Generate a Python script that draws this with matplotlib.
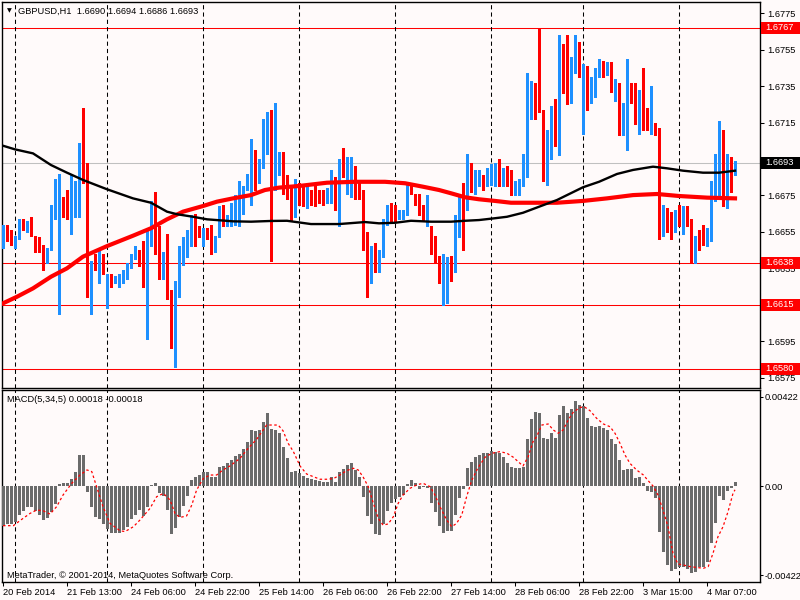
import numpy as np
import matplotlib
matplotlib.use("Agg")
import matplotlib.pyplot as plt
import matplotlib.transforms as mtransforms
from matplotlib.patches import Rectangle

plt.rcParams['font.family'] = ['Liberation Sans', 'DejaVu Sans']
plt.rcParams['font.size'] = 6.7

# GBPUSD H1 candles, bar 0 = 20 Feb 21:00 ... bar 183 = 4 Mar 14:00
opens = [
    1.6647, 1.6658, 1.6650, 1.6650, 1.6651, 1.6659, 1.6656, 1.6660, 1.6653, 1.6648,
    1.6647, 1.6638, 1.6645, 1.6664, 1.6668, 1.6672, 1.6665, 1.6663, 1.6672, 1.6677,
    1.6697, 1.6683, 1.6625, 1.6639, 1.6636, 1.6643, 1.6614, 1.6630, 1.6629, 1.6628,
    1.6630, 1.6634, 1.6636, 1.6641, 1.6644, 1.6641, 1.6625, 1.6647, 1.6672, 1.6655,
    1.6638, 1.6638, 1.6618, 1.6596, 1.6627, 1.6638, 1.6646, 1.6648, 1.6661, 1.6654,
    1.6652, 1.6656, 1.6654, 1.6644, 1.6652, 1.6667, 1.6658, 1.6662, 1.6665, 1.6669,
    1.6673, 1.6679, 1.6683, 1.6700, 1.6685, 1.6693, 1.6704, 1.6716, 1.6681, 1.6693,
    1.6697, 1.6678, 1.6676, 1.6664, 1.6681, 1.6675, 1.6673, 1.6676, 1.6676, 1.6676,
    1.6676, 1.6673, 1.6676, 1.6684, 1.6669, 1.6693, 1.6686, 1.6689, 1.6690, 1.6678,
    1.6676, 1.6645, 1.6638, 1.6644, 1.6634, 1.6642, 1.6662, 1.6668, 1.6666, 1.6664,
    1.6665, 1.6666, 1.6681, 1.6675, 1.6672, 1.6667, 1.6663, 1.6658, 1.6645, 1.6642,
    1.6630, 1.6630, 1.6639, 1.6638, 1.6659, 1.6672, 1.6668, 1.6689, 1.6681, 1.6683,
    1.6683, 1.6683, 1.6684, 1.6686, 1.6691, 1.6685, 1.6690, 1.6682, 1.6677, 1.6677,
    1.6680, 1.6686, 1.6728, 1.6733, 1.6727, 1.6716, 1.6683, 1.6696, 1.6723, 1.6704,
    1.6757, 1.6748, 1.6726, 1.6744, 1.6757, 1.6710, 1.6742, 1.6733, 1.6735, 1.6742,
    1.6748, 1.6745, 1.6746, 1.6733, 1.6736, 1.6714, 1.6716, 1.6732, 1.6729, 1.6711,
    1.6727, 1.6722, 1.6712, 1.6713, 1.6708, 1.6658, 1.6661, 1.6659, 1.6656, 1.6664,
    1.6663, 1.6663, 1.6661, 1.6639, 1.6653, 1.6653, 1.6650, 1.6650, 1.6674, 1.6675,
    1.6708, 1.6675, 1.6692, 1.6690,
]
highs = [
    1.6659, 1.6659, 1.6656, 1.6653, 1.6662, 1.6662, 1.6661, 1.6663, 1.6653, 1.6652,
    1.6648, 1.6646, 1.6670, 1.6684, 1.6687, 1.6674, 1.6678, 1.6686, 1.6683, 1.6704,
    1.6723, 1.6693, 1.6639, 1.6643, 1.6645, 1.6643, 1.6632, 1.6632, 1.6631, 1.6632,
    1.6634, 1.6638, 1.6643, 1.6647, 1.6645, 1.6650, 1.6657, 1.6672, 1.6677, 1.6658,
    1.6644, 1.6654, 1.6623, 1.6628, 1.6647, 1.6652, 1.6656, 1.6664, 1.6665, 1.6658,
    1.6657, 1.6657, 1.6659, 1.6653, 1.6669, 1.6670, 1.6664, 1.6671, 1.6675, 1.6683,
    1.6680, 1.6687, 1.6706, 1.6700, 1.6695, 1.6717, 1.6721, 1.6722, 1.6726, 1.6699,
    1.6699, 1.6686, 1.6680, 1.6684, 1.6682, 1.6680, 1.6681, 1.6678, 1.6680, 1.6678,
    1.6678, 1.6679, 1.6689, 1.6685, 1.6695, 1.6701, 1.6696, 1.6696, 1.6691, 1.6682,
    1.6678, 1.6655, 1.6647, 1.6649, 1.6645, 1.6662, 1.6670, 1.6671, 1.6670, 1.6667,
    1.6667, 1.6682, 1.6682, 1.6676, 1.6676, 1.6670, 1.6675, 1.6658, 1.6653, 1.6642,
    1.6643, 1.6641, 1.6642, 1.6664, 1.6674, 1.6682, 1.6698, 1.6693, 1.6689, 1.6689,
    1.6686, 1.6690, 1.6692, 1.6693, 1.6695, 1.6690, 1.6691, 1.6689, 1.6683, 1.6684,
    1.6698, 1.6742, 1.6738, 1.6737, 1.6767, 1.6722, 1.6711, 1.6724, 1.6728, 1.6763,
    1.6758, 1.6763, 1.6751, 1.6763, 1.6759, 1.6747, 1.6746, 1.6740, 1.6745, 1.6750,
    1.6749, 1.6748, 1.6748, 1.6739, 1.6737, 1.6726, 1.6750, 1.6737, 1.6737, 1.6733,
    1.6745, 1.6723, 1.6735, 1.6715, 1.6712, 1.6670, 1.6668, 1.6666, 1.6667, 1.6670,
    1.6669, 1.6669, 1.6662, 1.6653, 1.6656, 1.6659, 1.6657, 1.6683, 1.6698, 1.6716,
    1.6711, 1.6698, 1.6696, 1.6694,
]
lows = [
    1.6646, 1.6650, 1.6648, 1.6646, 1.6651, 1.6656, 1.6655, 1.6653, 1.6644, 1.6644,
    1.6634, 1.6638, 1.6645, 1.6662, 1.6610, 1.6663, 1.6662, 1.6654, 1.6663, 1.6663,
    1.6682, 1.6619, 1.6610, 1.6634, 1.6627, 1.6632, 1.6613, 1.6625, 1.6627, 1.6625,
    1.6627, 1.6629, 1.6635, 1.6640, 1.6636, 1.6625, 1.6596, 1.6647, 1.6643, 1.6629,
    1.6629, 1.6618, 1.6591, 1.6581, 1.6619, 1.6637, 1.6641, 1.6647, 1.6647, 1.6652,
    1.6647, 1.6651, 1.6643, 1.6644, 1.6652, 1.6658, 1.6658, 1.6658, 1.6659, 1.6658,
    1.6665, 1.6678, 1.6670, 1.6678, 1.6682, 1.6690, 1.6698, 1.6639, 1.6678, 1.6686,
    1.6676, 1.6673, 1.6661, 1.6663, 1.6670, 1.6669, 1.6668, 1.6670, 1.6669, 1.6671,
    1.6670, 1.6671, 1.6671, 1.6667, 1.6658, 1.6685, 1.6676, 1.6674, 1.6673, 1.6673,
    1.6645, 1.6619, 1.6627, 1.6633, 1.6633, 1.6641, 1.6659, 1.6661, 1.6661, 1.6662,
    1.6662, 1.6664, 1.6676, 1.6670, 1.6664, 1.6661, 1.6658, 1.6643, 1.6638, 1.6627,
    1.6615, 1.6616, 1.6628, 1.6633, 1.6652, 1.6645, 1.6667, 1.6677, 1.6676, 1.6680,
    1.6678, 1.6680, 1.6681, 1.6680, 1.6680, 1.6680, 1.6680, 1.6675, 1.6675, 1.6675,
    1.6680, 1.6685, 1.6717, 1.6717, 1.6721, 1.6683, 1.6681, 1.6695, 1.6702, 1.6697,
    1.6731, 1.6725, 1.6726, 1.6742, 1.6740, 1.6709, 1.6722, 1.6726, 1.6729, 1.6740,
    1.6740, 1.6741, 1.6732, 1.6727, 1.6708, 1.6708, 1.6700, 1.6726, 1.6714, 1.6709,
    1.6711, 1.6711, 1.6709, 1.6708, 1.6651, 1.6653, 1.6655, 1.6651, 1.6655, 1.6658,
    1.6654, 1.6658, 1.6638, 1.6638, 1.6645, 1.6648, 1.6647, 1.6650, 1.6672, 1.6673,
    1.6669, 1.6668, 1.6677, 1.6686,
]
closes = [
    1.6658, 1.6651, 1.6649, 1.6651, 1.6660, 1.6657, 1.6661, 1.6654, 1.6646, 1.6645,
    1.6640, 1.6645, 1.6666, 1.6667, 1.6673, 1.6665, 1.6663, 1.6671, 1.6678, 1.6698,
    1.6683, 1.6625, 1.6638, 1.6635, 1.6642, 1.6634, 1.6631, 1.6628, 1.6630, 1.6630,
    1.6633, 1.6635, 1.6642, 1.6645, 1.6641, 1.6626, 1.6645, 1.6671, 1.6654, 1.6638,
    1.6639, 1.6619, 1.6598, 1.6623, 1.6638, 1.6646, 1.6649, 1.6663, 1.6652, 1.6652,
    1.6654, 1.6655, 1.6644, 1.6652, 1.6668, 1.6663, 1.6663, 1.6667, 1.6671, 1.6673,
    1.6678, 1.6685, 1.6699, 1.6684, 1.6693, 1.6705, 1.6715, 1.6680, 1.6694, 1.6696,
    1.6677, 1.6675, 1.6663, 1.6681, 1.6675, 1.6673, 1.6675, 1.6675, 1.6674, 1.6673,
    1.6673, 1.6676, 1.6683, 1.6669, 1.6692, 1.6686, 1.6690, 1.6691, 1.6682, 1.6675,
    1.6651, 1.6638, 1.6645, 1.6634, 1.6643, 1.6661, 1.6669, 1.6667, 1.6662, 1.6665,
    1.6666, 1.6680, 1.6680, 1.6671, 1.6666, 1.6662, 1.6669, 1.6644, 1.6642, 1.6629,
    1.6631, 1.6640, 1.6636, 1.6659, 1.6671, 1.6669, 1.6690, 1.6682, 1.6684, 1.6684,
    1.6681, 1.6685, 1.6685, 1.6690, 1.6685, 1.6689, 1.6682, 1.6678, 1.6679, 1.6680,
    1.6685, 1.6730, 1.6735, 1.6721, 1.6721, 1.6684, 1.6709, 1.6722, 1.6704, 1.6757,
    1.6747, 1.6726, 1.6746, 1.6757, 1.6742, 1.6746, 1.6733, 1.6735, 1.6742, 1.6746,
    1.6744, 1.6747, 1.6733, 1.6737, 1.6715, 1.6718, 1.6731, 1.6730, 1.6715, 1.6728,
    1.6715, 1.6712, 1.6715, 1.6711, 1.6657, 1.6660, 1.6657, 1.6656, 1.6665, 1.6663,
    1.6665, 1.6659, 1.6639, 1.6651, 1.6651, 1.6648, 1.6652, 1.6675, 1.6693, 1.6709,
    1.6675, 1.6693, 1.6687, 1.6693,
]

# moving averages, read at a few bars
ma_black_x = [0, 3, 7.5, 12, 16, 20, 26, 32.5, 37, 41, 43.5, 47.5, 51, 57.5, 62, 67, 71, 77,
              84, 90.5, 94, 98, 102, 107, 112, 115.5, 119, 123, 126, 130, 134, 138.5, 141,
              145, 149, 153.5, 157.5, 162.5, 166, 170, 175, 179, 183]
ma_black = [1.67023, 1.67003, 1.66981, 1.66917, 1.66875, 1.66835, 1.66784, 1.66734, 1.66710,
            1.66661, 1.66647, 1.66633, 1.66619, 1.66608, 1.66606, 1.66610, 1.66611, 1.66593,
            1.66593, 1.66604, 1.66597, 1.66600, 1.66611, 1.66606, 1.66606, 1.66611, 1.66615,
            1.66625, 1.66633, 1.66655, 1.66688, 1.66725, 1.66752, 1.66795, 1.66825, 1.66868,
            1.66890, 1.66908, 1.66899, 1.66886, 1.66875, 1.66875, 1.66886]
ma_red_x = [0, 3.5, 7.5, 12, 16, 20, 26, 32.5, 37, 41, 45, 50, 53.5, 57.5, 62, 65.5, 69, 74,
            81, 88, 95.5, 100.5, 105, 109, 112, 115.5, 119, 123, 127, 134, 138.5, 145, 151,
            157.5, 163.5, 169, 176, 183]
ma_red = [1.66158, 1.66194, 1.66240, 1.66304, 1.66350, 1.66414, 1.66472, 1.66529, 1.66570,
          1.66619, 1.66661, 1.66692, 1.66716, 1.66734, 1.66752, 1.66780, 1.66793, 1.66802,
          1.66820, 1.66825, 1.66825, 1.66817, 1.66798, 1.66780, 1.66762, 1.66740, 1.66729,
          1.66720, 1.66710, 1.66710, 1.66710, 1.66720, 1.66734, 1.66752, 1.66758, 1.66747,
          1.66738, 1.66734]

# MACD(5,34,5) histogram, one value per bar
macd_hist = [
    -0.00188, -0.00180, -0.00180, -0.00169, -0.00137, -0.00117, -0.00098, -0.00101, -0.00117, -0.00137,
    -0.00161, -0.00153, -0.00122, -0.00087, 0.00009, 0.00014, 0.00014, 0.00033, 0.00066, 0.00147,
    0.00147, -0.00028, -0.00100, -0.00149, -0.00158, -0.00180, -0.00202, -0.00221, -0.00221, -0.00221,
    -0.00209, -0.00193, -0.00156, -0.00137, -0.00114, -0.00142, -0.00098, 0.00003, 0.00014, -0.00035,
    -0.00047, -0.00114, -0.00228, -0.00198, -0.00149, -0.00095, -0.00047, 0.00028, 0.00041, 0.00052,
    0.00065, 0.00068, 0.00041, 0.00041, 0.00088, 0.00095, 0.00107, 0.00123, 0.00142, 0.00152,
    0.00175, 0.00209, 0.00265, 0.00262, 0.00265, 0.00305, 0.00344, 0.00270, 0.00265, 0.00253,
    0.00186, 0.00131, 0.00066, 0.00073, 0.00060, 0.00047, 0.00036, 0.00033, 0.00028, 0.00025,
    0.00019, 0.00019, 0.00041, 0.00021, 0.00065, 0.00079, 0.00100, 0.00107, 0.00076, 0.00044,
    -0.00054, -0.00142, -0.00180, -0.00228, -0.00232, -0.00180, -0.00119, -0.00082, -0.00063, -0.00051,
    -0.00043, 0.00009, 0.00028, 0.00016, -0.00013, -0.00006, -0.00011, -0.00079, -0.00122, -0.00190,
    -0.00221, -0.00212, -0.00212, -0.00139, -0.00058, -0.00016, 0.00084, 0.00115, 0.00136, 0.00147,
    0.00158, 0.00158, 0.00166, 0.00163, 0.00158, 0.00139, 0.00107, 0.00088, 0.00084, 0.00086,
    0.00090, 0.00224, 0.00318, 0.00349, 0.00344, 0.00226, 0.00221, 0.00250, 0.00226, 0.00337,
    0.00379, 0.00344, 0.00363, 0.00404, 0.00384, 0.00379, 0.00321, 0.00284, 0.00281, 0.00284,
    0.00273, 0.00265, 0.00221, 0.00199, 0.00123, 0.00076, 0.00079, 0.00079, 0.00040, 0.00044,
    0.00013, -0.00022, -0.00027, -0.00055, -0.00216, -0.00311, -0.00374, -0.00401, -0.00395, -0.00382,
    -0.00382, -0.00395, -0.00414, -0.00406, -0.00386, -0.00382, -0.00359, -0.00272, -0.00177, -0.00047,
    -0.00066, -0.00024, -0.00011, 0.00018,
]
signal_x = [0, 2.6, 4.25, 6.75, 8.4, 10, 11.75, 13.4, 15, 17.2, 19.25, 21, 22.2, 23.4, 25, 26.75,
            29.25, 30.5, 32.6, 34.25, 36.75, 38.4, 40.1, 41.75, 43, 44.25, 45.9, 47.2, 48.4, 50.1,
            51.75, 53.4, 55, 56.75, 59.25, 61.3, 63.4, 65.9, 68.8, 70, 71.3, 72.6, 74.25, 75.9,
            77.6, 79.25, 80.9, 82.6, 84.25, 85.9, 87.6, 88.8, 90, 91.3, 92.6, 93.8, 95, 96.3,
            97.6, 98.8, 100, 101.75, 103.4, 105, 106.75, 108, 109.25, 110.9, 112.2, 113.4, 114.7,
            115.9, 117.2, 118.8, 120.5, 122.2, 124.25, 126, 127.6, 128.8, 130, 131.3, 132.5,
            133.4, 134.7, 136.3, 137.6, 138.8, 140, 141.3, 142.5, 144.25, 145.5, 146.75, 148.4,
            150.1, 151.75, 153, 154.25, 155.5, 156.75, 158.4, 160.1, 161.3, 162.5, 163.75, 165,
            166.25, 167.5, 168.75, 170, 171.75, 173.4, 175.1, 176.3, 177.5, 178.75, 180, 181.25,
            182.5, 183]
signal = [-0.00188, -0.00188, -0.00164, -0.00130, -0.00114, -0.00117, -0.00133, -0.00098, -0.00043,
          0.00013, 0.00052, 0.00076, 0.00068, -0.00003, -0.00098, -0.00177, -0.00212, -0.00216,
          -0.00193, -0.00161, -0.00106, -0.00051, -0.00035, -0.00066, -0.00130, -0.00149, -0.00142,
          -0.00090, -0.00019, 0.00036, 0.00052, 0.00052, 0.00076, 0.00095, 0.00131, 0.00179, 0.00221,
          0.00289, 0.00289, 0.00262, 0.00202, 0.00163, 0.00095, 0.00057, 0.00044, 0.00032, 0.00032,
          0.00035, 0.00052, 0.00073, 0.00084, 0.00076, 0.00044, -0.00003, -0.00082, -0.00153,
          -0.00185, -0.00180, -0.00145, -0.00082, -0.00043, -0.00011, 0.00005, 0.00013, -0.00003,
          -0.00043, -0.00098, -0.00161, -0.00193, -0.00177, -0.00137, -0.00051, 0.00028, 0.00088,
          0.00136, 0.00155, 0.00163, 0.00155, 0.00136, 0.00115, 0.00095, 0.00139, 0.00210, 0.00234,
          0.00289, 0.00294, 0.00265, 0.00250, 0.00265, 0.00313, 0.00348, 0.00373, 0.00373, 0.00357,
          0.00321, 0.00294, 0.00281, 0.00250, 0.00202, 0.00147, 0.00107, 0.00076, 0.00052, 0.00025,
          0.0, -0.00043, -0.00114, -0.00193, -0.00319, -0.00370, -0.00374, -0.00382, -0.00386,
          -0.00390, -0.00382, -0.00319, -0.00240, -0.00193, -0.00122, -0.00035, -0.00018]

levels = [1.6767, 1.6638, 1.6615, 1.6580]
bid = 1.6693
separator_bars = [3, 26, 50, 74, 98, 122, 145, 169]
xtick_bars = [0, 16, 32, 48, 64, 80, 96, 112, 128, 144, 160, 176]
xtick_labels = ["20 Feb 2014", "21 Feb 13:00", "24 Feb 06:00", "24 Feb 22:00", "25 Feb 14:00",
                "26 Feb 06:00", "26 Feb 22:00", "27 Feb 14:00", "28 Feb 06:00", "28 Feb 22:00",
                "3 Mar 15:00", "4 Mar 07:00"]
price_ticks = [1.6775, 1.6755, 1.6735, 1.6715, 1.6695, 1.6675, 1.6655, 1.6635, 1.6615, 1.6595, 1.6575]
hidden_ticks = [1.6695, 1.6615]  # fully under the bid / level boxes
macd_ticks = [0.00422, 0.0, -0.00422]
macd_tick_labels = ["0.00422", "0.00", "-0.00422"]

bg = '#FFFAFA'
bull_col = '#1E90FF'
bear_col = '#FF0000'
W, H = 800, 600


def px_box(x0, y0, x1, y1):
    return [x0 / W, 1 - y1 / H, (x1 - x0) / W, (y1 - y0) / H]


fig = plt.figure(figsize=(8, 6), dpi=100, facecolor=bg)
ax = fig.add_axes(px_box(2, 2, 760, 388), facecolor=bg)
ax2 = fig.add_axes(px_box(2, 390, 760, 582), facecolor=bg)

# price panel
x = np.arange(len(opens))
o, h, l, c = map(np.array, (opens, highs, lows, closes))
col = np.where(c >= o, bull_col, bear_col)
ax.vlines(x, l, h, colors=col, lw=0.75, zorder=3, antialiased=False)
ax.bar(x, np.maximum(np.abs(c - o), 0.00006), bottom=np.minimum(o, c), width=0.75,
       color=col, lw=0, zorder=4, antialiased=False)
ax.plot(ma_red_x, ma_red, color='red', lw=3.0, zorder=5)
ax.plot(ma_black_x, ma_black, color='black', lw=1.7, zorder=5)

for v in levels:
    ax.axhline(v, color='red', lw=0.75, zorder=2)
ax.axhline(bid, color='#C0C0C0', lw=0.75, zorder=1)

for axx in (ax, ax2):
    for b in separator_bars:
        axx.axvline(b, color='black', lw=0.75, ls=(0, (4, 3)), zorder=2)
    axx.set_xlim(-0.25, 189.25)
    for s in axx.spines.values():
        s.set_linewidth(1.0)
        s.set_color('black')

ylo, yhi = 1.65693, 1.67812
ax.set_ylim(ylo, yhi)
ax.yaxis.tick_right()
ax.set_yticks(price_ticks)
ax.set_yticklabels(['' if v in hidden_ticks else f'{v:.4f}' for v in price_ticks])
ax.tick_params(axis='y', direction='out', length=3, width=0.75, pad=2, labelsize=6.7)
ax.tick_params(axis='x', bottom=False, labelbottom=False)

# price labels on the axis
trans = mtransforms.blended_transform_factory(ax.transAxes, ax.transData)
box_h = 12 * (yhi - ylo) / 386
for v, fc in [(lv, 'red') for lv in levels] + [(bid, 'black')]:
    ax.add_patch(Rectangle((1.0013, v - box_h / 2), 0.06, box_h, transform=trans,
                           fc=fc, ec='none', clip_on=False, zorder=6))
    ax.text(1.0065, v, f'{v:.4f}', transform=trans, color='white', va='center',
            ha='left', fontsize=6.7, clip_on=False, zorder=7)

# MACD panel
ax2.bar(x, macd_hist, width=0.75, color='#6B6B6B', lw=0, zorder=3, antialiased=False)
ax2.plot(signal_x, signal, color='red', lw=0.9, ls=(0, (2, 2)), zorder=4)
ax2.set_ylim(-0.00455, 0.00455)
ax2.yaxis.tick_right()
ax2.set_yticks(macd_ticks)
ax2.set_yticklabels(macd_tick_labels)
ax2.tick_params(axis='y', direction='out', length=2, width=0.75, pad=1, labelsize=6.7)
ax2.set_xticks(xtick_bars)
ax2.set_xticklabels(xtick_labels, ha='left')
ax2.tick_params(axis='x', direction='out', length=3, width=0.75, pad=1.5, labelsize=6.7)

fig.text(6.5 / W, 1 - 11 / H, "\u25bc", fontsize=4.5, family='DejaVu Sans', va='center')
fig.text(18 / W, 1 - 11 / H, "GBPUSD,H1  1.6690 1.6694 1.6686 1.6693", va='center', fontsize=6.7)
fig.text(7 / W, 1 - 399 / H, "MACD(5,34,5) 0.00018 -0.00018", va='center', fontsize=6.7)
fig.text(7 / W, 1 - 575 / H, "MetaTrader, \u00a9 2001-2014, MetaQuotes Software Corp.",
         va='center', fontsize=6.7)

fig.savefig('out.png', dpi=100, facecolor=bg)
